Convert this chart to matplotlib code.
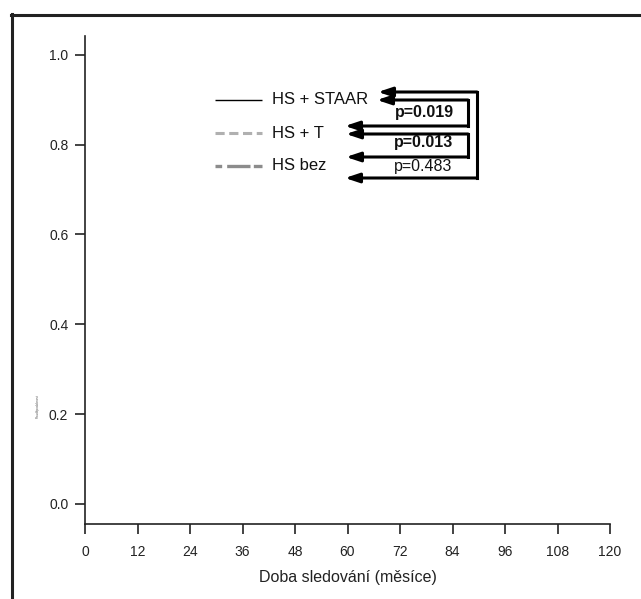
import matplotlib
matplotlib.use("Agg")
import matplotlib.pyplot as plt
from matplotlib.lines import Line2D

plt.rcParams['font.family'] = ['Liberation Sans', 'DejaVu Sans']

# data
groups = ['HS + STAAR', 'HS + T', 'HS bez']
group_colors = ['black', '#b0b0b0', '#8c8c8c']
group_widths = [1.0, 2.2, 2.4]
group_dashes = [None, (3.0, 1.5), (2.0, 1.5, 7.0, 1.0, 7.0, 1.5)]
p_labels = ['p=0.019', 'p=0.013', 'p=0.483']
p_bold = [True, True, False]
x_ticks = [0, 12, 24, 36, 48, 60, 72, 84, 96, 108, 120]
y_ticks = [0.0, 0.2, 0.4, 0.6, 0.8, 1.0]
x_label = 'Doba sledování (měsíce)'
y_label = 'Pravděpodobnost'

W, H = 641, 599
fig = plt.figure(figsize=(W / 100, H / 100), dpi=100)

def fx(x):
    return x / W

def fy(y):
    return 1 - y / H

ax = fig.add_axes([fx(85), fy(524), fx(610) - fx(85), fy(36) - fy(524)])
ax.set_xlim(0, 120)
ax.set_ylim(-0.045, 1.042)
ax.spines['top'].set_visible(False)
ax.spines['right'].set_visible(False)
for s in ['left', 'bottom']:
    ax.spines[s].set_linewidth(1.2)
    ax.spines[s].set_color('#222222')
ax.set_xticks(x_ticks)
ax.set_xticklabels([str(t) for t in x_ticks])
ax.set_yticks(y_ticks)
ax.set_yticklabels(['%.1f' % t for t in y_ticks])
ax.tick_params(direction='out', length=7, width=1.2, color='#222222',
               labelsize=10, labelcolor='#222222')
ax.tick_params(axis='x', pad=8)
ax.tick_params(axis='y', pad=5)
ax.set_xlabel(x_label, fontsize=11.5, color='#222222', labelpad=8)

# tiny y label remnant
fig.text(fx(38), fy(406), y_label, fontsize=2.2, rotation=90, color='#555555',
         ha='center', va='center')

# outer frame (top and left only)
fig.add_artist(Line2D([fx(12), fx(12)], [fy(14), 0], transform=fig.transFigure,
                      color='#222222', lw=2.2))
fig.add_artist(Line2D([fx(11), 1], [fy(14.5), fy(14.5)], transform=fig.transFigure,
                      color='#222222', lw=2.2))

# legend
leg_y = [100, 133, 166]
for name, c, w, d, y in zip(groups, group_colors, group_widths, group_dashes, leg_y):
    ln = Line2D([fx(215), fx(262)], [fy(y), fy(y)], transform=fig.transFigure,
                color=c, lw=w, solid_capstyle='butt', dash_capstyle='butt')
    if d is not None:
        ln.set_dashes(d)
    fig.add_artist(ln)
    fig.text(fx(272), fy(y), name, fontsize=12, color='#111111', ha='left', va='center')

# comparison brackets: (top y, bottom y, right x, top tip x, bottom tip x)
brackets = [(92, 178, 477, 378, 345), (100, 126, 468, 377, 345), (134, 157, 468, 346, 346)]
arrow = dict(arrowstyle='-|>,head_length=0.6,head_width=0.2', color='black',
             lw=2.2, mutation_scale=14, shrinkA=0, shrinkB=0)
for y1, y2, xr, t1, t2 in brackets:
    fig.add_artist(Line2D([fx(xr), fx(xr)], [fy(y1), fy(y2)], transform=fig.transFigure,
                          color='black', lw=2.2, solid_capstyle='projecting'))
    for y, t in [(y1, t1), (y2, t2)]:
        ax.annotate('', xy=(fx(t), fy(y)), xytext=(fx(xr), fy(y)),
                    xycoords='figure fraction', textcoords='figure fraction',
                    arrowprops=arrow)

p_pos = [(424, 112), (424, 143), (423, 167)]
for lab, b, (x, y) in zip(p_labels, p_bold, p_pos):
    fig.text(fx(x), fy(y), lab, fontsize=11.5 if b else 11.5,
             fontweight='bold' if b else 'normal', color='#111111',
             ha='center', va='center')

fig.savefig('out.png', dpi=100)
